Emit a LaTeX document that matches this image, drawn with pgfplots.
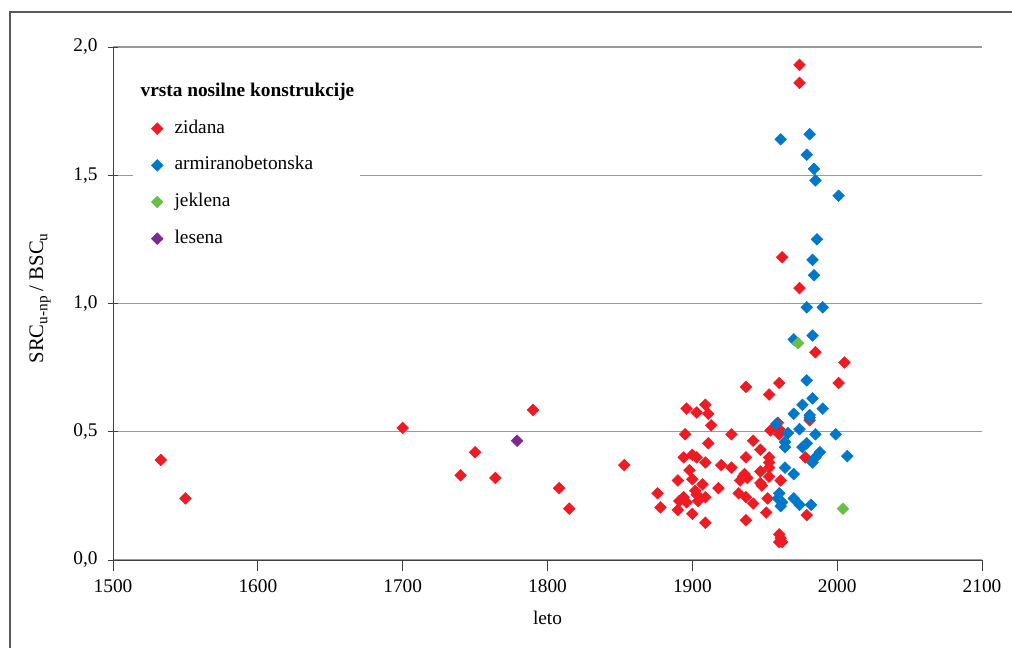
\documentclass[border=0pt]{standalone}
\usepackage{pgfplots}
\pgfplotsset{compat=1.18}
\usepackage{pgfplotstable}
\usepackage{fontspec}
\setmainfont{Liberation Serif}
\definecolor{zred}{HTML}{ED1C24}
\definecolor{zblue}{HTML}{0077C8}
\definecolor{zgreen}{HTML}{6ABD45}
\definecolor{zpurple}{HTML}{7D2A8E}
\newcommand\sub[1]{\raisebox{-0.45ex}{\fontsize{11.5pt}{12pt}\selectfont #1}}

\pgfplotstableread{
x y
1533 0.39
1550 0.24
1700 0.515
1740 0.33
1750 0.42
1764 0.32
1790 0.585
1808 0.28
1815 0.20
1853 0.37
1876 0.26
1878 0.205
1890 0.195
1890 0.31
1891 0.23
1894 0.245
1894 0.40
1895 0.49
1896 0.59
1896 0.225
1898 0.35
1900 0.315
1900 0.18
1900 0.41
1902 0.27
1903 0.575
1903 0.40
1903 0.255
1904 0.23
1907 0.295
1909 0.605
1909 0.38
1909 0.245
1909 0.145
1911 0.57
1911 0.455
1913 0.525
1918 0.28
1920 0.37
1927 0.36
1927 0.49
1932 0.26
1933 0.31
1935 0.325
1936 0.335
1938 0.32
1937 0.40
1937 0.675
1937 0.245
1937 0.155
1942 0.465
1942 0.22
1947 0.43
1947 0.345
1947 0.30
1948 0.29
1951 0.185
1952 0.24
1953 0.40
1953 0.38
1953 0.36
1953 0.325
1953 0.645
1954 0.505
1959 0.535
1960 0.51
1960 0.49
1960 0.69
1961 0.31
1960 0.10
1960 0.07
1962 0.07
1961 0.085
1962 1.18
1974 1.93
1974 1.86
1974 1.06
1978 0.40
1979 0.175
1981 0.545
1985 0.81
2001 0.69
2005 0.77
}\zidana

\pgfplotstableread{
x y
1961 1.64
1981 1.66
1979 1.58
1984 1.525
1985 1.48
2001 1.42
1986 1.25
1983 1.17
1984 1.11
1979 0.985
1990 0.985
1983 0.875
1970 0.86
1979 0.70
1983 0.63
1976 0.605
1990 0.59
1970 0.57
1981 0.565
1981 0.555
1958 0.53
1974 0.51
1966 0.495
1985 0.49
1999 0.49
1964 0.46
1964 0.44
1979 0.455
1976 0.44
1988 0.42
1985 0.40
1983 0.38
2007 0.405
1964 0.36
1970 0.335
1960 0.26
1959 0.24
1961 0.21
1962 0.225
1970 0.24
1974 0.215
1982 0.215
}\armirano

\pgfplotstableread{
x y
1973 0.845
2004 0.20
}\jeklena

\pgfplotstableread{
x y
1779 0.465
}\lesena

\begin{document}
\begin{tikzpicture}
\useasboundingbox (0,0) rectangle (759pt,486pt);
\draw[line width=1.1pt, black!65] (7.5pt,-10pt) -- (7.5pt,477pt) -- (780pt,477pt);
\begin{axis}[
  at={(84.75pt,66pt)}, anchor=south west,
  scale only axis, width=651.75pt, height=384.75pt,
  xmin=1500, xmax=2100, ymin=0, ymax=2,
  axis lines*=left,
  axis line style={black!75, line width=0.6pt},
  xtick={1500,1600,1700,1800,1900,2000,2100},
  xticklabels={1500,1600,1700,1800,1900,2000,2100},
  ytick={0,0.5,1,1.5,2},
  yticklabels={{0,0},{0,5},{1,0},{1,5},{2,0}},
  ymajorgrids, major grid style={black!40, line width=0.8pt},
  xtick align=outside, ytick align=center, major tick length=8pt,
  tick style={black!75, line width=0.6pt},
  tick label style={font=\fontsize{14.5pt}{17pt}\selectfont},
  xticklabel style={yshift=-3pt},
  yticklabel style={xshift=-4pt},
  label style={font=\fontsize{14.5pt}{17pt}\selectfont},
  xlabel={leto},
  ylabel={\fontsize{15.5pt}{17pt}\selectfont SRC\sub{u-np} / BSC\sub{u}},
  xlabel style={at={(axis description cs:0.5,-0.113)}, anchor=center},
  ylabel style={at={(axis description cs:-0.084,0.51)}, anchor=center},
  legend cell align=left,
  legend style={at={(axis description cs:0.023,0.9407)}, anchor=north west,
    draw=none, fill=white, inner sep=2pt, row sep=10pt,
    font=\fontsize{14.5pt}{17pt}\selectfont,
    nodes={inner sep=2pt, text height=10pt, text depth=3.5pt}},
  legend image code/.code={\path[draw=none,fill=none] (0pt,-3pt) rectangle (27pt,3pt); \draw[#1] plot coordinates {(16pt,0pt)};},
  every axis plot/.append style={only marks, mark=square*, mark size=3.1pt},
]
\addlegendimage{legend image code/.code={}}
\addlegendentry{\hspace{-25.5pt}\textbf{vrsta nosilne konstrukcije}}
\addplot[mark options={rotate=45, fill=zred, draw=zred}] table {\zidana};
\addlegendentry{zidana}
\addplot[mark options={rotate=45, fill=zblue, draw=zblue}] table {\armirano};
\addlegendentry{armiranobetonska}
\addplot[mark options={rotate=45, fill=zgreen, draw=zgreen}] table {\jeklena};
\addlegendentry{jeklena}
\addplot[mark options={rotate=45, fill=zpurple, draw=zpurple}] table {\lesena};
\addlegendentry{lesena}
\end{axis}
\end{tikzpicture}
\end{document}
